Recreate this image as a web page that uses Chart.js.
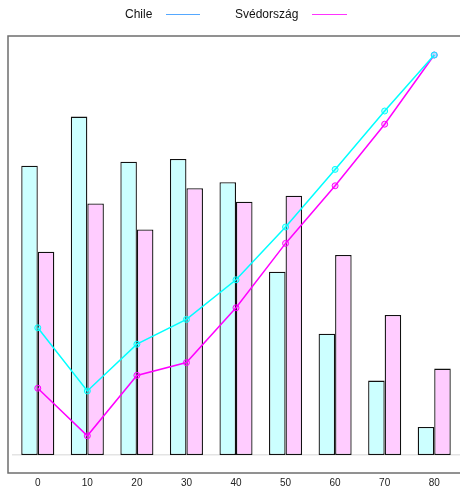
<!DOCTYPE html>
<html lang="hu">
<head>
  <meta charset="UTF-8" />
  <title>Chile - Svédország</title>
  <script src="https://cdn.jsdelivr.net/npm/chart.js"></script>
  <style>
    body { margin: 0; background: #fff; font-family: "Liberation Sans", Arial, sans-serif; }
    .wrap { position: relative; width: 460px; height: 488px; }
    canvas { position: absolute; left: 0; top: 0; }
    .leg { position: absolute; top: 6px; font-size: 12px; color: #111; line-height: 16px; }
    .leg-line { position: absolute; top: 14px; height: 1px; }
  </style>
</head>
<body>
  <div class="wrap">
    <canvas id="chart" width="460" height="488"></canvas>
    <span class="leg" style="left:125px">Chile</span>
    <div class="leg-line" style="left:166px;width:34px;background:#55a8ff"></div>
    <span class="leg" style="left:235px">Svédország</span>
    <div class="leg-line" style="left:312px;width:35px;background:#ff33ff"></div>
  </div>

  <script>
    // categories (age groups) and values
    const labels = ['0', '10', '20', '30', '40', '50', '60', '70', '80'];
    const chileBars = [72.3, 84.6, 73.3, 74, 68.2, 45.8, 30.3, 18.6, 7];
    const swedenBars = [50.8, 62.9, 56.4, 66.7, 63.3, 64.8, 50, 35, 21.6];
    const chileLine = [31.8, 16, 27.7, 33.9, 43.8, 57, 71.4, 86, 100];
    const swedenLine = [16.7, 4.8, 19.9, 23.1, 36.8, 52.9, 67.3, 82.7, 100];

    // grey frame around the plot
    const framePlugin = {
      id: 'frame',
      afterDraw(chart) {
        const ctx = chart.ctx;
        ctx.save();
        ctx.strokeStyle = '#6e6e6e';
        ctx.lineWidth = 1.5;
        ctx.strokeRect(8, 36, 470, 437);
        ctx.restore();
      }
    };

    new Chart(document.getElementById('chart'), {
      type: 'bar',
      data: {
        labels: labels,
        datasets: [
          {
            type: 'line', label: 'Chile', data: chileLine, order: 0,
            borderColor: '#00ffff', borderWidth: 1.5, tension: 0,
            pointRadius: 3, pointBorderWidth: 1,
            pointBackgroundColor: 'rgba(0,255,255,0.25)', pointBorderColor: '#00ffff'
          },
          {
            type: 'line', label: 'Svédország', data: swedenLine, order: 0,
            borderColor: '#ff00ff', borderWidth: 1.5, tension: 0,
            pointRadius: 3, pointBorderWidth: 1,
            pointBackgroundColor: 'rgba(255,0,255,0.2)', pointBorderColor: '#ff00ff'
          },
          {
            label: 'Chile', data: chileBars, order: 1,
            backgroundColor: '#ccffff', borderColor: '#111', borderWidth: 1.3,
            borderSkipped: false, barPercentage: 1, categoryPercentage: 0.667
          },
          {
            label: 'Svédország', data: swedenBars, order: 1,
            backgroundColor: '#ffccff', borderColor: '#111', borderWidth: 1.3,
            borderSkipped: false, barPercentage: 1, categoryPercentage: 0.667
          }
        ]
      },
      options: {
        responsive: false,
        animation: false,
        // autoPadding would reserve room for the line points on the right
        layout: { autoPadding: false, padding: { left: 13, right: 1, top: 39, bottom: 0 } },
        plugins: {
          legend: { display: false },
          tooltip: { enabled: false }
        },
        scales: {
          x: {
            offset: true,
            // tick marks are hidden, tickLength only pushes the labels down
            grid: { display: false, drawTicks: true, tickLength: 20 },
            border: { display: true, color: '#e4e4e4', width: 1.5 },
            ticks: {
              padding: 2, color: '#222', maxRotation: 0,
              font: { family: '"Liberation Sans", Arial, sans-serif', size: 10 }
            },
            afterFit(scale) { scale.height = 33; }
          },
          y: {
            display: false,
            min: 0,
            max: 104
          }
        }
      },
      plugins: [framePlugin]
    });
  </script>
</body>
</html>
